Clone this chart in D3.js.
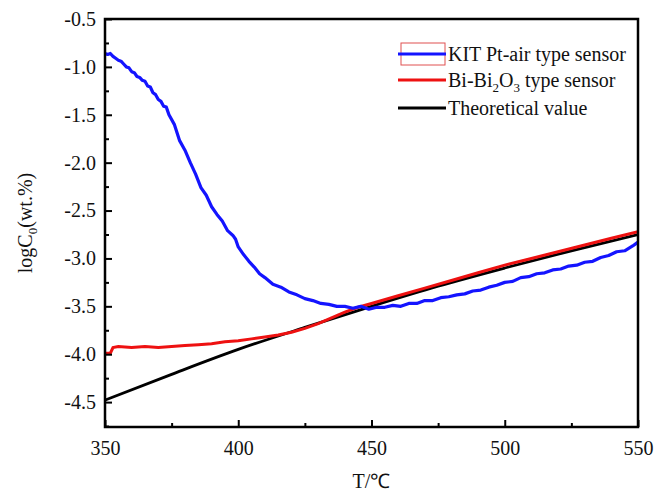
<!DOCTYPE html>
<html><head><meta charset="utf-8">
<script src="https://cdn.jsdelivr.net/npm/d3@7"></script>
<style>body{margin:0;background:#fff}svg{display:block}text{font-family:"Liberation Serif","Times New Roman",serif;fill:#111}</style>
</head><body><svg id="c" width="659" height="493"></svg>
<script>
const xTicks = [350,400,450,500,550];
const yTicks = [-0.5,-1.0,-1.5,-2.0,-2.5,-3.0,-3.5,-4.0,-4.5];
const seriesNames = ["KIT Pt-air type sensor","Bi-Bi2O3 type sensor","Theoretical value"];

const blueT = [350,351,352,353,354,355,356,357,358,359,360,361,362,363,364,365,366,367,368,369,370,371,372,373,374,376,378,380,382,384,386,388,389,390,392,394,396,398,399,400,402,404,406,408,410,413,416,419,422,425,428,431,434,437,440,443,446,449,452,455,458,461,464,467,470,473,476,479,482,485,488,491,494,497,500,503,506,509,512,515,518,521,524,527,530,533,536,539,542,545,548,550];
const blueV = [-0.86,-0.87,-0.86,-0.89,-0.91,-0.93,-0.94,-0.97,-1.00,-1.01,-1.05,-1.06,-1.10,-1.11,-1.14,-1.15,-1.20,-1.21,-1.27,-1.29,-1.34,-1.36,-1.41,-1.42,-1.50,-1.60,-1.77,-1.87,-2.00,-2.12,-2.26,-2.34,-2.40,-2.46,-2.54,-2.61,-2.71,-2.76,-2.80,-2.88,-2.96,-3.03,-3.09,-3.16,-3.20,-3.27,-3.30,-3.35,-3.38,-3.42,-3.44,-3.47,-3.48,-3.50,-3.50,-3.52,-3.50,-3.53,-3.51,-3.51,-3.49,-3.50,-3.47,-3.47,-3.44,-3.44,-3.41,-3.40,-3.38,-3.37,-3.34,-3.33,-3.30,-3.28,-3.25,-3.24,-3.20,-3.19,-3.16,-3.15,-3.12,-3.11,-3.08,-3.07,-3.04,-3.03,-2.99,-2.97,-2.93,-2.92,-2.87,-2.83];

const redT = [350,352,353,355,360,365,370,375,380,385,390,395,400,405,410,415,420,425,430,435,440,445,450,460,470,480,490,500,510,520,530,540,550];
const redV = [-3.99,-3.99,-3.93,-3.92,-3.93,-3.92,-3.93,-3.92,-3.91,-3.90,-3.89,-3.87,-3.86,-3.84,-3.82,-3.80,-3.77,-3.73,-3.68,-3.62,-3.56,-3.51,-3.47,-3.39,-3.31,-3.23,-3.15,-3.07,-3.00,-2.93,-2.86,-2.79,-2.72];

const blackT = [350,375,400,425,450,475,500,525,550];
const blackV = [-4.48,-4.21,-3.95,-3.72,-3.50,-3.29,-3.10,-2.92,-2.75];

const colors = ["#1414ff","#ee1111","#000000"];

const svg = d3.select("#c");
const L=105,R=638,T=19,B=427;
const x = d3.scaleLinear().domain([350,550]).range([L,R]);
const y = d3.scaleLinear().domain([-4.76,-0.5]).range([B,T]);

svg.append("clipPath").attr("id","clip").append("rect").attr("x",L).attr("y",T).attr("width",R-L).attr("height",B-T);

const mk = c => d3.line().x(d=>x(d[0])).y(d=>y(d[1])).curve(c);
const g = svg.append("g").attr("clip-path","url(#clip)");
g.append("path").datum(blackT.map((t,i)=>[t,blackV[i]])).attr("d",mk(d3.curveMonotoneX)).attr("fill","none").attr("stroke",colors[2]).attr("stroke-width",2.8);
g.append("path").datum(redT.map((t,i)=>[t,redV[i]])).attr("d",mk(d3.curveLinear)).attr("fill","none").attr("stroke",colors[1]).attr("stroke-width",3);
g.append("path").datum(blueT.map((t,i)=>[t,blueV[i]])).attr("d",mk(d3.curveLinear)).attr("fill","none").attr("stroke",colors[0]).attr("stroke-width",3.2).attr("stroke-linejoin","round");

const fmtY = d => d.toFixed(1).replace("−","-");
const xAxis = d3.axisBottom(x).tickValues(xTicks).tickSize(-7).tickPadding(14).tickFormat(d=>String(d));
const xMinor = d3.axisBottom(x).tickValues([375,425,475,525]).tickSize(-4).tickFormat("");
const yAxis = d3.axisLeft(y).tickValues(yTicks).tickSize(-7).tickPadding(9).tickFormat(fmtY);
const yMinor = d3.axisLeft(y).tickValues(d3.range(-0.75,-4.8,-0.5)).tickSize(-4).tickFormat("");

function style(sel){sel.select(".domain").remove();sel.selectAll("line").attr("stroke","#000").attr("stroke-width",2);sel.selectAll("text").attr("font-size",20).style("font-family","'Liberation Serif',serif").attr("fill","#111");}
svg.append("g").attr("transform",`translate(0,${B})`).call(xAxis).call(style);
svg.append("g").attr("transform",`translate(0,${B})`).call(xMinor).call(style);
svg.append("g").attr("transform",`translate(${L},0)`).call(yAxis).call(style);
svg.append("g").attr("transform",`translate(${L},0)`).call(yMinor).call(style);

svg.append("rect").attr("x",L).attr("y",T).attr("width",R-L).attr("height",B-T).attr("fill","none").attr("stroke","#000").attr("stroke-width",2.5);

svg.append("text").attr("x",x(450)).attr("y",488).attr("text-anchor","middle").attr("font-size",20).text("T/℃");
const yl = svg.append("text").attr("transform",`translate(32,${(T+B)/2}) rotate(-90)`).attr("text-anchor","middle").attr("font-size",20);
yl.append("tspan").text("logC");
yl.append("tspan").attr("font-size",13).attr("dy",5).text("0");
yl.append("tspan").attr("dy",-5).text("(wt.%)");

const legY=[54,80,108];
const lx0=398,lx1=446,tx=448;
svg.append("rect").attr("x",401).attr("y",43).attr("width",44).attr("height",22).attr("fill","none").attr("stroke","#e05050").attr("stroke-width",1);
seriesNames.forEach((n,i)=>{
  svg.append("line").attr("x1",lx0).attr("x2",lx1).attr("y1",legY[i]).attr("y2",legY[i]).attr("stroke",colors[i]).attr("stroke-width",3);
  const t = svg.append("text").attr("x",tx).attr("y",legY[i]+7).attr("font-size",20);
  if(i===1){
    t.append("tspan").text("Bi-Bi");
    t.append("tspan").attr("font-size",13).attr("dy",5).text("2");
    t.append("tspan").attr("dy",-5).text("O");
    t.append("tspan").attr("font-size",13).attr("dy",5).text("3");
    t.append("tspan").attr("dy",-5).text(" type sensor");
  } else t.text(n);
});
</script></body></html>
